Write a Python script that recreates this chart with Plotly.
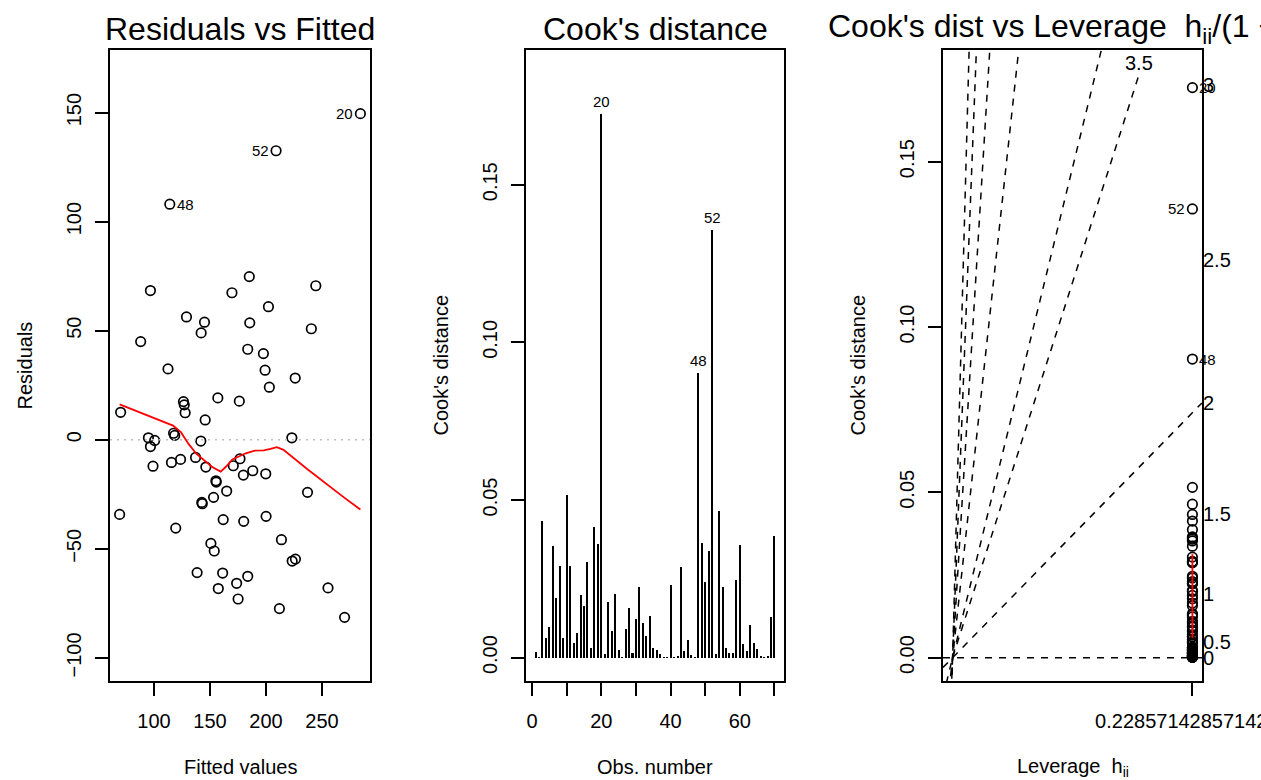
import plotly.graph_objects as go

W, H = 1261, 780
FONT = "Liberation Sans, Arial, Helvetica, sans-serif"

# ---------------- data ----------------
# Panel 1: residuals vs fitted (first three points are the labelled ones)
fitted = [284.3, 209.0, 114.1, 96.8, 185.1, 169.6, 202.2, 129.0, 145.1, 185.5,
          142.1, 88.1, 183.7, 197.7, 112.5, 199.2, 226.1, 244.5, 240.5, 203.0,
          176.2, 70.2, 126.3, 127.0, 157.0, 127.8, 145.7, 95.0, 100.6, 96.8,
          117.5, 118.5, 141.8, 223.1, 99.1, 115.6, 123.7, 137.1, 146.3, 170.8,
          176.8, 179.8, 188.2, 199.8, 155.3, 155.6, 164.9, 153.2, 142.7, 143.1,
          69.3, 161.8, 180.1, 200.1, 119.4, 213.8, 150.8, 153.8, 223.4, 226.3,
          138.5, 161.3, 183.7, 173.8, 157.4, 175.1, 212.0, 237.1, 255.4, 270.2]
residuals = [149.5, 132.5, 108.0, 68.4, 74.8, 67.4, 61.0, 56.3, 53.9, 53.6,
             49.0, 45.0, 41.5, 39.5, 32.5, 31.9, 28.3, 70.6, 50.9, 24.1,
             17.7, 12.6, 17.5, 16.0, 19.2, 12.4, 9.1, 0.9, -0.3, -3.1,
             3.0, 2.0, -0.6, 0.9, -12.1, -10.4, -9.0, -8.1, -12.5, -11.9,
             -8.7, -16.2, -14.2, -15.6, -18.8, -19.4, -23.5, -26.4, -28.7, -29.3,
             -34.2, -36.6, -37.4, -35.1, -40.5, -45.8, -47.5, -51.0, -55.6, -54.7,
             -60.9, -61.1, -62.6, -65.8, -68.2, -73.0, -77.4, -24.1, -67.9, -81.4]
rf_labels = ["20", "52", "48"]
rf_label_side = ["left", "left", "right"]
smooth_fitted = [69.3, 117.0, 124.0, 131.0, 138.0, 144.0, 152.0, 159.5, 164.0, 170.0,
                 176.8, 182.0, 190.0, 198.0, 204.0, 209.7, 215.6, 236.5, 269.3, 284.3]
smooth_resid = [16.2, 6.5, 3.5, -2.0, -6.5, -9.0, -12.5, -14.6, -12.5, -9.0,
                -7.3, -6.2, -5.0, -4.9, -4.2, -3.4, -4.6, -13.3, -26.3, -32.0]
x1_ticks = [100, 150, 200, 250]
y1_ticks = [-100, -50, 0, 50, 100, 150]
y1_tick_text = ["\u2212100", "\u221250", "0", "50", "100", "150"]

# Panel 2: Cook's distance by observation
obs_number = list(range(1, 71))
cooks = [0.0017, 0.0001, 0.0433, 0.0063, 0.0096, 0.0353, 0.0188, 0.0291, 0.0063, 0.0515,
         0.0290, 0.0047, 0.0079, 0.0200, 0.0165, 0.0304, 0.0030, 0.0413, 0.0361, 0.1724,
         0.0010, 0.0178, 0.0083, 0.0203, 0.0023, 0.0002, 0.0092, 0.0157, 0.0014, 0.0123,
         0.0225, 0.0110, 0.0069, 0.0133, 0.0030, 0.0025, 0.0013, 0.0002, 0.0001, 0.0230,
         0.0002, 0.0006, 0.0287, 0.0021, 0.0055, 0.0007, 0.0002, 0.0903, 0.0365, 0.0241,
         0.0337, 0.1357, 0.0012, 0.0464, 0.0223, 0.0031, 0.0014, 0.0014, 0.0246, 0.0358,
         0.0043, 0.0020, 0.0105, 0.0047, 0.0026, 0.0006, 0.0002, 0.0006, 0.0129, 0.0387]
cook_label_obs = [20, 52, 48]
cook_label_side = ["right", "left", "right"]   # used in panel 3
x2_major_ticks = [0, 20, 40, 60]
x2_minor_ticks = [10, 30, 50, 70]
y_cook_ticks = [0, 0.05, 0.10, 0.15]
y_cook_text = ["0.00", "0.05", "0.10", "0.15"]

# Panel 3: Cook's distance vs leverage
n_params = 16
n_obs = 70
contour_b = [0, 0.5, 1, 1.5, 2, 2.5, 3, 3.5]
lev_smooth_cook = [0.0059, 0.0313]

# ---------------- geometry ----------------
panel_px = [(110, 370), (526, 784), (943, 1202)]
top_px, bot_px = 50, 681


def px_x(p):
    return p / W


def px_y(p):
    return 1 - p / H


def extend(lo, hi, f=0.04):
    d = (hi - lo) * f
    return [lo - d, hi + d]


hii = n_params / n_obs
g = hii / (1 - hii)

x1_rng = extend(min(fitted), max(fitted))
y1_rng = extend(*extend(min(residuals), max(residuals), 0.08))
x2_rng = extend(1, n_obs)
y2_rng = extend(0, max(cooks) * 1.075)
x3_rng = extend(0, g)
y3_rng = extend(0, max(cooks) * 1.025)

fig = go.Figure()

circle = dict(symbol="circle-open", size=9.5, color="black", line=dict(width=1.7, color="black"))

# Panel 1
fig.add_trace(go.Scatter(x=fitted, y=residuals, mode="markers", xaxis="x", yaxis="y",
                         marker=circle, showlegend=False, cliponaxis=False))
fig.add_trace(go.Scatter(x=x1_rng, y=[0, 0], mode="lines", xaxis="x", yaxis="y",
                         line=dict(color="#bebebe", width=1.5, dash="2px,5px"), showlegend=False))
fig.add_trace(go.Scatter(x=smooth_fitted, y=smooth_resid, mode="lines", xaxis="x", yaxis="y",
                         line=dict(color="red", width=1.8), showlegend=False))

# Panel 2
fig.add_trace(go.Bar(x=obs_number, y=cooks, width=0.58, xaxis="x2", yaxis="y2",
                     marker=dict(color="black", line=dict(width=0)), showlegend=False))

# Panel 3 contour lines
ppu3 = (bot_px - top_px) / (y3_rng[1] - y3_rng[0])
sh3 = 17 / ppu3
for b in contour_b:
    b2 = b * b
    if n_params * y3_rng[1] > b2 * x3_rng[1]:
        xs = x3_rng
        ys = [b2 * x for x in xs]
    else:
        yi = y3_rng[1] - 1.5 * sh3
        xs = [0, n_params * yi / b2]
        ys = [0, yi]
    fig.add_trace(go.Scatter(x=xs, y=ys, mode="lines", xaxis="x3", yaxis="y3",
                             line=dict(color="black", width=1.5, dash="7px,7px"), showlegend=False))

fig.add_trace(go.Scatter(x=[g] * len(cooks), y=cooks, mode="markers", xaxis="x3", yaxis="y3",
                         marker=circle, showlegend=False, cliponaxis=False))
fig.add_trace(go.Scatter(x=[g, g], y=lev_smooth_cook, mode="lines", xaxis="x3", yaxis="y3",
                         line=dict(color="red", width=1.8), showlegend=False))


# ---------------- axes ----------------
def axis(dom, rng, vals, text, anchor, yaxis=False, minor_vals=None):
    d = dict(domain=dom, range=rng, anchor=anchor, showline=True, mirror=True,
             linecolor="black", linewidth=1.6, ticks="outside", ticklen=13, tickwidth=1.6,
             tickcolor="black", showgrid=False, zeroline=False, automargin=False,
             tickmode="array", tickvals=vals, ticktext=text, ticklabeloverflow="allow",
             tickfont=dict(size=20, color="black", family=FONT))
    if yaxis:
        d["tickangle"] = -90
        d["ticklabelstandoff"] = 6
    else:
        d["ticklabelstandoff"] = 8
    if minor_vals:
        d["minor"] = dict(tickmode="array", tickvals=minor_vals, ticks="outside", ticklen=13,
                          tickwidth=1.6, tickcolor="black", showgrid=False)
    return d


ydom = [px_y(bot_px), px_y(top_px)]
xd = [[px_x(a), px_x(b)] for a, b in panel_px]

fig.update_layout(
    xaxis=axis(xd[0], x1_rng, x1_ticks, [str(v) for v in x1_ticks], "y"),
    yaxis=axis(ydom, y1_rng, y1_ticks, y1_tick_text, "x", True),
    xaxis2=axis(xd[1], x2_rng, x2_major_ticks, [str(v) for v in x2_major_ticks], "y2",
                minor_vals=x2_minor_ticks),
    yaxis2=axis(ydom, y2_rng, y_cook_ticks, y_cook_text, "x2", True),
    xaxis3=axis(xd[2], x3_rng, [g], [format(hii, ".16g")], "y3"),
    yaxis3=axis(ydom, y3_rng, y_cook_ticks, y_cook_text, "x3", True),
)

ann = []
TITLE_SIZE = 32
titles = ["Residuals vs Fitted", "Cook's distance"]
for i, t in enumerate(titles):
    cx = (panel_px[i][0] + panel_px[i][1]) / 2
    ann.append(dict(text=t, x=px_x(cx), y=px_y(29), xref="paper", yref="paper",
                    xanchor="center", yanchor="middle", showarrow=False,
                    font=dict(size=TITLE_SIZE, color="black", family=FONT)))
ann.append(dict(text="Cook's dist vs Leverage  h<sub>ii</sub>/(1 \u2212 h<sub>ii</sub>)",
                x=px_x(826), y=px_y(29), xref="paper", yref="paper",
                xanchor="left", yanchor="middle", showarrow=False,
                font=dict(size=TITLE_SIZE, color="black", family=FONT)))

xtitles = ["Fitted values", "Obs. number", "Leverage  h<sub>ii</sub>"]
ytitles = ["Residuals", "Cook's distance", "Cook's distance"]
for i in range(3):
    cx = (panel_px[i][0] + panel_px[i][1]) / 2
    ann.append(dict(text=xtitles[i], x=px_x(cx), y=px_y(767), xref="paper", yref="paper",
                    xanchor="center", yanchor="middle", showarrow=False,
                    font=dict(size=20, color="black", family=FONT)))
    ann.append(dict(text=ytitles[i], x=px_x(panel_px[i][0] - 86), y=px_y((top_px + bot_px) / 2),
                    xref="paper", yref="paper", xanchor="center", yanchor="middle",
                    textangle=-90, showarrow=False,
                    font=dict(size=20, color="black", family=FONT)))

# Panel 1 point labels
for k, lab in enumerate(rf_labels):
    side = rf_label_side[k]
    ann.append(dict(text=lab, x=fitted[k], y=residuals[k], xref="x", yref="y",
                    xanchor="right" if side == "left" else "left", yanchor="middle",
                    xshift=-5 if side == "left" else 5, showarrow=False,
                    font=dict(size=15, color="black", family=FONT)))

# Panel 2 labels
for o in cook_label_obs:
    ann.append(dict(text=str(o), x=o, y=cooks[o - 1], xref="x2", yref="y2",
                    xanchor="center", yanchor="bottom", yshift=2, showarrow=False,
                    font=dict(size=15, color="black", family=FONT)))

# Panel 3 labels
for k, o in enumerate(cook_label_obs):
    side = cook_label_side[k]
    ann.append(dict(text=str(o), x=g, y=cooks[o - 1], xref="x3", yref="y3",
                    xanchor="right" if side == "left" else "left", yanchor="middle",
                    xshift=-5 if side == "left" else 5, showarrow=False,
                    font=dict(size=15, color="black", family=FONT)))

# contour labels
for b in contour_b:
    b2 = b * b
    lab = format(b, "g")
    if n_params * y3_rng[1] > b2 * x3_rng[1]:
        xi = x3_rng[1]
        yi = b2 * xi / n_params
        ann.append(dict(text=lab, x=xi, y=yi, xref="x3", yref="y3", xanchor="left",
                        yanchor="middle", showarrow=False, xshift=-1,
                        font=dict(size=20, color="black", family=FONT)))
    else:
        yl = y3_rng[1] - 1.5 * sh3
        xi = n_params * yl / b2
        ann.append(dict(text=lab, x=xi, y=y3_rng[1] - 0.8 * sh3, xref="x3", yref="y3",
                        xanchor="center", yanchor="bottom", showarrow=False, yshift=-12,
                        font=dict(size=20, color="black", family=FONT)))

fig.update_layout(
    annotations=ann,
    width=W, height=H, autosize=False,
    margin=dict(l=0, r=0, t=0, b=0),
    template="none",
    paper_bgcolor="white", plot_bgcolor="white",
    showlegend=False, bargap=0,
    font=dict(family=FONT, color="black"),
)

fig.write_html("out.html")
